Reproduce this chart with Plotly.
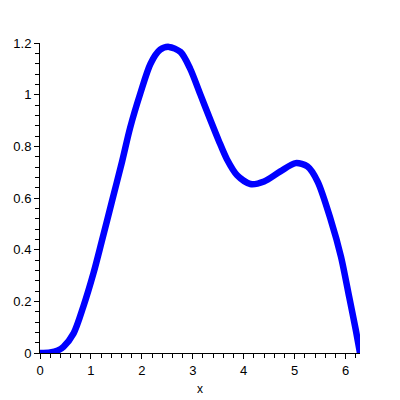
import plotly.graph_objects as go
import math

# curve
x_vals = [0, 0.2, 0.35, 0.46, 0.66, 0.85, 1.05, 1.21, 1.41, 1.61, 1.77, 1.97,
          2.17, 2.36, 2.53, 2.76, 2.95, 3.15, 3.35, 3.51, 3.67, 3.87, 4.13,
          4.40, 4.72, 5.02, 5.25, 5.45, 5.71, 5.91, 6.07, 6.2, 6.283]
y_vals = [0, 0.002, 0.01, 0.024, 0.076, 0.179, 0.309, 0.43, 0.585, 0.74, 0.872,
          1.005, 1.12, 1.174, 1.185, 1.165, 1.1, 1.0, 0.9, 0.822, 0.75,
          0.688, 0.654, 0.664, 0.703, 0.735, 0.722, 0.664, 0.515, 0.373, 0.218,
          0.09, 0]

x_ticks = [0, 1, 2, 3, 4, 5, 6]
y_ticks = [0, 0.2, 0.4, 0.6, 0.8, 1, 1.2]

fig = go.Figure(
    go.Scatter(
        x=x_vals,
        y=y_vals,
        mode="lines",
        line=dict(color="rgb(0,0,255)", width=6.5, shape="spline", smoothing=0.8),
        cliponaxis=False,
        showlegend=False,
    ))

axis_font = dict(family="Liberation Sans, Arial, sans-serif", size=13, color="black")

# page body has an 8px margin, so the figure is 392px and offsets are shifted
fig.update_layout(
    width=392,
    height=392,
    plot_bgcolor="white",
    paper_bgcolor="white",
    margin=dict(l=32, r=40, t=35, b=47),
    xaxis=dict(
        range=[0, 2 * math.pi],
        tickvals=x_ticks,
        ticks="outside",
        ticklen=5,
        tickcolor="black",
        minor=dict(dtick=0.2, ticks="outside", ticklen=4, tickcolor="black"),
        showline=True,
        linecolor="black",
        linewidth=1,
        showgrid=False,
        zeroline=False,
        automargin=False,
        tickfont=axis_font,
        title=dict(text="x", font=dict(family="Liberation Sans, Arial, sans-serif", size=12, color="black"), standoff=8),
    ),
    yaxis=dict(
        range=[0, 1.2],
        tickvals=y_ticks,
        ticks="outside",
        ticklen=5,
        tickcolor="black",
        minor=dict(dtick=0.04, ticks="outside", ticklen=4, tickcolor="black"),
        showline=True,
        linecolor="black",
        linewidth=1,
        showgrid=False,
        zeroline=False,
        automargin=False,
        tickfont=axis_font,
    ),
)

fig.write_html("out.html", config={"displayModeBar": False})
